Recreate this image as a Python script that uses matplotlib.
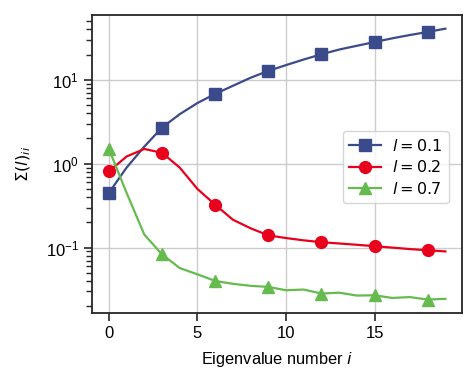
import numpy as np
import matplotlib.pyplot as plt

plt.rcParams['font.family'] = ['Liberation Sans', 'DejaVu Sans']
plt.rcParams['mathtext.fontset'] = 'dejavusans'

# eigenvalue index
idx = np.arange(20)

# diagonal entries of Sigma(l) for three length scales
sig_01 = [0.45, 0.9, 1.6, 2.7, 3.9, 5.3, 6.8, 8.5, 10.6, 12.8,
          15.0, 17.5, 20.2, 23.0, 25.5, 28.3, 31.3, 34.3, 37.3, 40.8]
sig_02 = [0.81, 1.22, 1.5, 1.35, 0.9, 0.5, 0.325, 0.215, 0.17, 0.14,
          0.13, 0.122, 0.116, 0.112, 0.108, 0.104, 0.1, 0.096, 0.093, 0.090]
sig_07 = [1.5, 0.45, 0.143, 0.083, 0.057, 0.048, 0.040, 0.037, 0.035, 0.034,
          0.031, 0.0316, 0.0283, 0.029, 0.0268, 0.027, 0.0251, 0.0257, 0.024, 0.0245]

labels = ['$l = 0.1$', '$l = 0.2$', '$l = 0.7$']
colors = ['#3b4a8a', '#e8001c', '#66bb4f']
markers = ['s', 'o', '^']

fig = plt.figure(figsize=(4.77, 3.88), dpi=100)
ax = fig.add_axes([0.193, 0.193, 0.776, 0.768])

for y, lab, c, m in zip([sig_01, sig_02, sig_07], labels, colors, markers):
    ax.plot(idx, y, color=c, marker=m, markevery=3, markersize=8.5, lw=1.6, label=lab)

ax.set_yscale('log')
ax.set_xticks([0, 5, 10, 15])
ax.grid(True, which='major', color='#cccccc', lw=1)
ax.set_axisbelow(True)
for s in ax.spines.values():
    s.set_color('#262626')
    s.set_linewidth(1.3)
ax.tick_params(which='major', direction='out', length=6, width=1.2, color='#262626', labelsize=12)
ax.tick_params(which='minor', direction='out', length=4, width=1, color='#262626')
ax.set_xlabel('Eigenvalue number $i$', fontsize=11.8, labelpad=6)
ax.set_ylabel(r'$\Sigma(l)_{ii}$', fontsize=11.8, labelpad=9)
ax.legend(loc='center right', bbox_to_anchor=(0.985, 0.49), fontsize=11.5, edgecolor='#cccccc',
          handlelength=2.0, borderpad=0.4, labelspacing=0.35, handletextpad=0.7)

plt.savefig('out.png', dpi=100)
